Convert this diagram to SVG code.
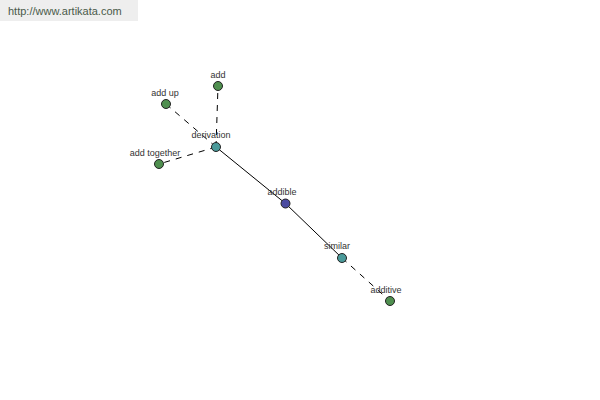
<svg xmlns="http://www.w3.org/2000/svg" width="600" height="400" viewBox="0 0 600 400">
<style>
.lbl{font-family:"Liberation Sans",Arial,sans-serif;font-size:9px;fill:#333;text-anchor:middle}
.n{stroke:#222;stroke-width:1}
.g{fill:#4f8f4f}
.t{fill:#4a9a9a}
.b{fill:#4a4aa0}
.e{stroke:#000;stroke-width:1;fill:none}
.d{stroke-dasharray:6,6}
</style>
<rect x="0" y="0" width="600" height="400" fill="#fff"/>
<rect x="0" y="0" width="138" height="21" fill="#eeeeee"/>
<text x="8" y="15" font-family="Liberation Sans,Arial,sans-serif" font-size="11" fill="#4a5a4a">http://www.artikata.com</text>
<g id="connectors">
<line class="e d" x1="216" y1="147" x2="218" y2="86"/>
<line class="e d" x1="216" y1="147" x2="166" y2="104"/>
<line class="e d" x1="216" y1="147" x2="159" y2="164"/>
<line class="e" x1="216" y1="147" x2="285.5" y2="203.5"/>
<line class="e" x1="285.5" y1="203.5" x2="342" y2="258"/>
<line class="e d" x1="342" y1="258" x2="390" y2="301"/>
</g>
<g id="add"><circle class="n g" cx="218" cy="86" r="4.5"/><text class="lbl" x="218" y="78">add</text></g>
<g id="add-up"><circle class="n g" cx="166" cy="104" r="4.5"/><text class="lbl" x="165" y="96">add up</text></g>
<g id="derivation"><circle class="n t" cx="216" cy="147" r="4.5"/><text class="lbl" x="211" y="138">derivation</text></g>
<g id="add-together"><circle class="n g" cx="159" cy="164" r="4.5"/><text class="lbl" x="155" y="156">add together</text></g>
<g id="addible"><circle class="n b" cx="285.5" cy="203.5" r="4.5"/><text class="lbl" x="282" y="195">addible</text></g>
<g id="similar"><circle class="n t" cx="342" cy="258" r="4.5"/><text class="lbl" x="337" y="249">similar</text></g>
<g id="additive"><circle class="n g" cx="390" cy="301" r="4.5"/><text class="lbl" x="386" y="293">additive</text></g>
</svg>
